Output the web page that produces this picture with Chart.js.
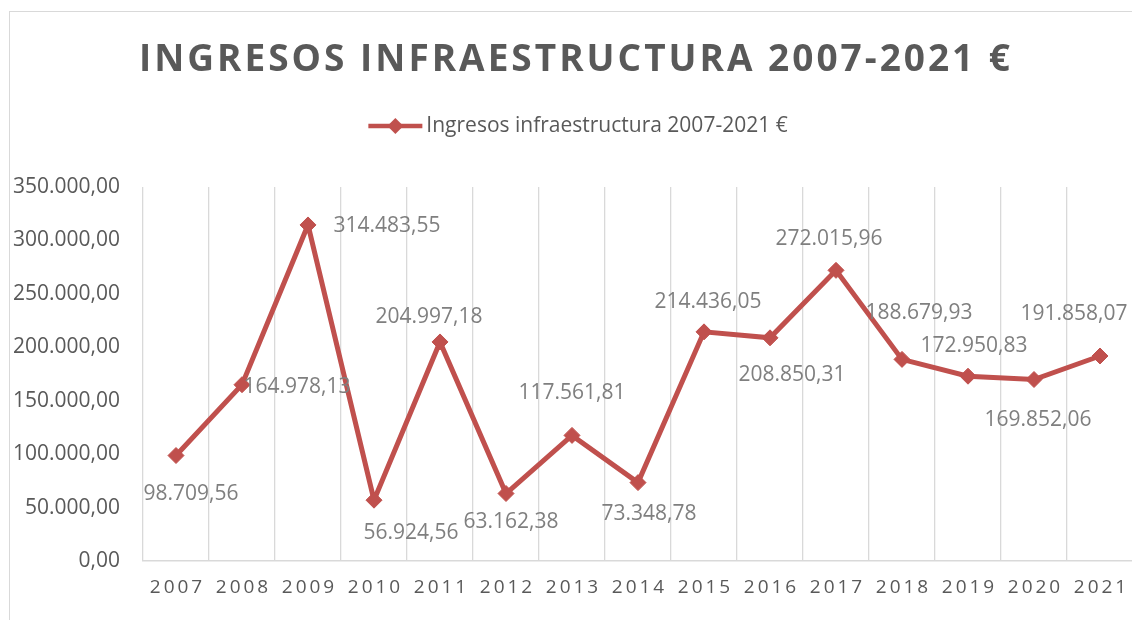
<!DOCTYPE html>
<html>
<head>
<meta charset="utf-8">
<script src="https://cdn.jsdelivr.net/npm/chart.js"></script>
<style>
  body { margin: 0; overflow: hidden; background: #fff; }
  #frame { position: absolute; left: 9px; top: 11px; width: 1200px; height: 700px; border: 1px solid #d9d9d9; }
  #chart { position: absolute; left: 0; top: 0; }
</style>
</head>
<body>
<div id="frame"></div>
<canvas id="chart" width="1145" height="640"></canvas>
<script>
const years = ['2007', '2008', '2009', '2010', '2011', '2012', '2013', '2014', '2015', '2016', '2017', '2018', '2019', '2020', '2021'];
const ingresos = [98709.56, 164978.13, 314483.55, 56924.56, 204997.18, 63162.38, 117561.81, 73348.78, 214436.05, 208850.31, 272015.96, 188679.93, 172950.83, 169852.06, 191858.07];
const yTicks = [0, 50000, 100000, 150000, 200000, 250000, 300000, 350000];
const titleText = 'INGRESOS INFRAESTRUCTURA 2007-2021 €';
const seriesName = 'Ingresos infraestructura 2007-2021 €';

// where each value label sits relative to its point (dx, dy)
const labelOffsets = [[15, 38], [55, 2], [79, 1], [37, 33], [-11, -25], [5, 29], [0, -42], [11, 31],
                      [4, -30], [22, 37], [-7, -31], [17, -46], [6, -30], [4, 41], [-26, -42]];

const red = '#c0504d';
const grey = '#595959';
const font = '"Open Sans", sans-serif';

fmt = (v) => {
    const parts = v.toFixed(2).split('.');
    return parts[0].replace(/\B(?=(\d{3})+(?!\d))/g, '.') + ',' + parts[1];
}

diamond = (ctx, x, y, r) => {
    ctx.beginPath();
    ctx.moveTo(x - r, y);
    ctx.lineTo(x, y - r);
    ctx.lineTo(x + r, y);
    ctx.lineTo(x, y + r);
    ctx.closePath();
    ctx.fill();
}

const decorations = {
    id: 'decorations',
    afterDatasetsDraw(chart) {
        const ctx = chart.ctx;
        const meta = chart.getDatasetMeta(0);
        ctx.save();
        ctx.font = '21px ' + font;
        ctx.fillStyle = '#7f7f7f';
        ctx.textAlign = 'center';
        ctx.textBaseline = 'middle';
        meta.data.forEach((pt, i) => {
            const off = labelOffsets[i];
            ctx.fillText(fmt(ingresos[i]), pt.x + off[0], pt.y + off[1]);
        });
        ctx.restore();
    },
    afterDraw(chart) {
        const ctx = chart.ctx;
        const xScale = chart.scales.x;
        ctx.save();

        // title
        ctx.fillStyle = grey;
        ctx.textAlign = 'center';
        ctx.textBaseline = 'middle';
        ctx.font = 'bold 37px ' + font;
        ctx.letterSpacing = '3px';
        ctx.fillText(titleText, 576, 60);

        // legend
        ctx.letterSpacing = '0px';
        ctx.font = '21px ' + font;
        const tw = ctx.measureText(seriesName).width;
        const total = 54 + 4 + tw;
        const lx = 578 - total / 2;
        ctx.strokeStyle = red;
        ctx.lineWidth = 4.5;
        ctx.beginPath();
        ctx.moveTo(lx, 126);
        ctx.lineTo(lx + 54, 126);
        ctx.stroke();
        ctx.fillStyle = red;
        diamond(ctx, lx + 27, 126, 8);
        ctx.fillStyle = grey;
        ctx.textAlign = 'left';
        ctx.fillText(seriesName, lx + 58, 126);

        // category labels
        ctx.font = '19px ' + font;
        ctx.letterSpacing = '3px';
        ctx.textAlign = 'center';
        years.forEach((y, i) => {
            ctx.fillText(y, xScale.getPixelForValue(i) + 1.5, 588);
        });
        ctx.restore();
    }
};

const ctx = document.getElementById('chart').getContext('2d');
new Chart(ctx, {
    type: 'line',
    data: {
        labels: years,
        datasets: [{
            label: seriesName,
            data: ingresos,
            borderColor: red,
            backgroundColor: red,
            borderWidth: 5,
            pointStyle: 'rectRot',
            pointRadius: 8,
            pointBackgroundColor: red,
            pointBorderColor: red,
            pointBorderWidth: 1,
            tension: 0
        }]
    },
    options: {
        responsive: false,
        animation: false,
        layout: { padding: { top: 187, right: 12, left: 0, bottom: 0 } },
        plugins: {
            legend: { display: false },
            title: { display: false },
            tooltip: { enabled: false }
        },
        scales: {
            x: {
                offset: true,
                grid: { offset: true, color: '#d9d9d9', lineWidth: 1.3, drawTicks: false },
                border: { color: '#d9d9d9', width: 1.5 },
                ticks: { display: false },
                afterFit: (scale) => { scale.height = 79; }
            },
            y: {
                min: 0,
                max: 350000,
                afterBuildTicks: (scale) => { scale.ticks = yTicks.map(v => ({ value: v })); },
                grid: { display: false, drawTicks: false },
                border: { display: false },
                ticks: {
                    padding: 23,
                    color: grey,
                    font: { family: font, size: 21 },
                    callback: (v) => fmt(v)
                },
                afterFit: (scale) => { scale.width = 143; }
            }
        }
    },
    plugins: [decorations]
});
</script>
</body>
</html>
